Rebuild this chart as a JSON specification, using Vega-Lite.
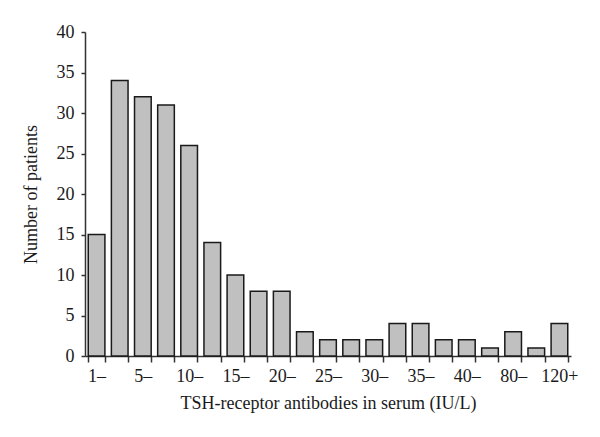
{
  "$schema": "https://vega.github.io/schema/vega-lite/v6.json",
  "width": 486,
  "height": 324,
  "autosize": "none",
  "padding": {"left": 85, "top": 32, "right": 29, "bottom": 81},
  "background": "white",
  "config": {"view": {"stroke": null}, "font": "Liberation Serif"},
  "data": {"values": [
    {"bin": "1–", "patients": 15},
    {"bin": "2.5–", "patients": 34},
    {"bin": "5–", "patients": 32},
    {"bin": "7.5–", "patients": 31},
    {"bin": "10–", "patients": 26},
    {"bin": "12.5–", "patients": 14},
    {"bin": "15–", "patients": 10},
    {"bin": "17.5–", "patients": 8},
    {"bin": "20–", "patients": 8},
    {"bin": "22.5–", "patients": 3},
    {"bin": "25–", "patients": 2},
    {"bin": "27.5–", "patients": 2},
    {"bin": "30–", "patients": 2},
    {"bin": "32.5–", "patients": 4},
    {"bin": "35–", "patients": 4},
    {"bin": "37.5–", "patients": 2},
    {"bin": "40–", "patients": 2},
    {"bin": "60–", "patients": 1},
    {"bin": "80–", "patients": 3},
    {"bin": "100–", "patients": 1},
    {"bin": "120+", "patients": 4}
  ]},
  "mark": {"type": "bar", "fill": "#c0c0c0", "stroke": "#1a1a1a", "strokeWidth": 1.5},
  "encoding": {
    "x": {
      "field": "bin", "type": "ordinal", "sort": null,
      "scale": {"paddingInner": 0.28, "paddingOuter": 0.14},
      "axis": {
        "title": "TSH-receptor antibodies in serum (IU/L)",
        "labelExpr": "indexof(['1–','5–','10–','15–','20–','25–','30–','35–','40–','80–','120+'], datum.value) >= 0 ? datum.value : ''",
        "labelAngle": 0,
        "labelFontSize": 18, "labelColor": "#1a1a1a", "labelPadding": 5,
        "titleFontSize": 18, "titleFontWeight": "normal", "titleColor": "#1a1a1a", "titlePadding": 9,
        "tickBand": "extent", "tickSize": 6, "tickColor": "#333", "tickWidth": 1.5,
        "domainColor": "#333", "domainWidth": 1.5
      }
    },
    "y": {
      "field": "patients", "type": "quantitative",
      "scale": {"domain": [0, 40]},
      "axis": {
        "title": "Number of patients",
        "values": [0, 5, 10, 15, 20, 25, 30, 35, 40],
        "grid": false,
        "labelFontSize": 18, "labelColor": "#1a1a1a", "labelPadding": 7,
        "titleFontSize": 18, "titleFontWeight": "normal", "titleColor": "#1a1a1a", "titlePadding": 16,
        "tickSize": 4, "tickColor": "#333", "tickWidth": 1.5,
        "domainColor": "#333", "domainWidth": 1.5
      }
    }
  }
}
